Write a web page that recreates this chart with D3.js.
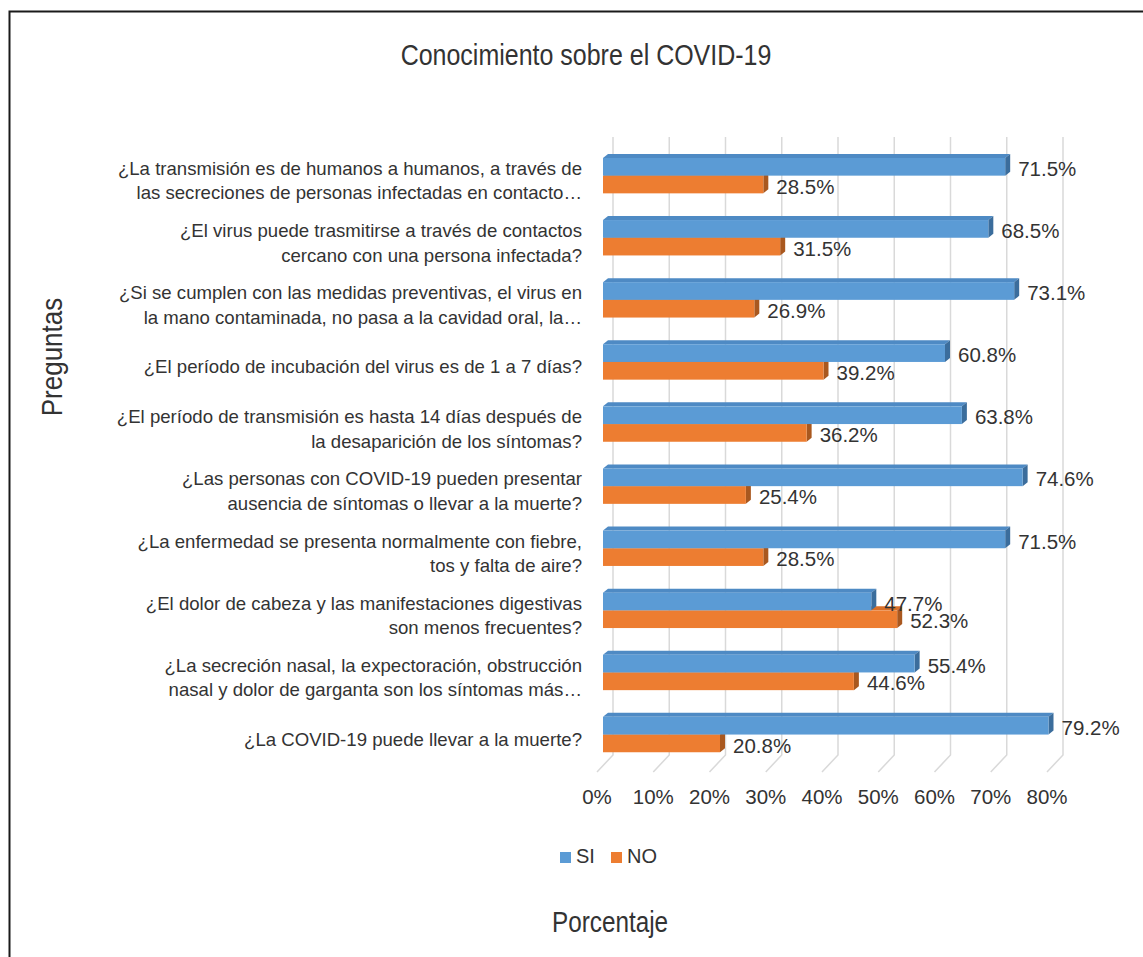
<!DOCTYPE html>
<html>
<head>
<meta charset="utf-8">
<script src="https://cdn.jsdelivr.net/npm/d3@7"></script>
<style>
  body { margin: 0; background: #fff; }
  text { font-family: "Liberation Sans", Arial, sans-serif; fill: #333; }
</style>
</head>
<body>
<script>
// chart data
var preguntas = [
    ["¿La transmisión es de humanos a humanos, a través de", "las secreciones de personas infectadas en contacto…"],
    ["¿El virus puede trasmitirse a través de contactos", "cercano con una persona infectada?"],
    ["¿Si se cumplen con las medidas preventivas, el virus en", "la mano contaminada, no pasa a la cavidad oral, la…"],
    ["¿El período de incubación del virus es de 1 a 7 días?"],
    ["¿El período de transmisión es hasta 14 días después de", "la desaparición de los síntomas?"],
    ["¿Las personas con COVID-19 pueden presentar", "ausencia de síntomas o llevar a la muerte?"],
    ["¿La enfermedad se presenta normalmente con fiebre,", "tos y falta de aire?"],
    ["¿El dolor de cabeza y las manifestaciones digestivas", "son menos frecuentes?"],
    ["¿La secreción nasal, la expectoración, obstrucción", "nasal y dolor de garganta son los síntomas más…"],
    ["¿La COVID-19 puede llevar a la muerte?"]
];
var series = ["SI", "NO"];
var valoresSI = [71.5, 68.5, 73.1, 60.8, 63.8, 74.6, 71.5, 47.7, 55.4, 79.2];
var valoresNO = [28.5, 31.5, 26.9, 39.2, 36.2, 25.4, 28.5, 52.3, 44.6, 20.8];
var ticks = [0, 10, 20, 30, 40, 50, 60, 70, 80];

var width = 1143,
    height = 957;

var colors = {
    SI: { front: "#5b9bd5", top: "#4e8ac4", side: "#3b6d9c" },
    NO: { front: "#ed7d31", top: "#d86f28", side: "#a9581f" }
};

var svg = d3.select("body")
    .append("svg")
    .attr("width", width)
    .attr("height", height);

//outer frame (right and bottom edges fall off the picture)
svg.append("path")
    .attr("d", "M9.5,957 L9.5,11.5 L1143,11.5")
    .attr("fill", "none")
    .attr("stroke", "#1a1a1a")
    .attr("stroke-width", 2);

//scales: x is the front face of the bars
var x = d3.scaleLinear().domain([0, 80]).range([603, 1053]);
var backDx = 10, floorDx = -6;
var depthX = 5, depthY = -4;

var idx = d3.range(preguntas.length);
var y = d3.scaleBand()
    .domain(idx)
    .range([144.6, 765.6])
    .paddingInner(0.43)
    .paddingOuter(0.215);
var ySub = d3.scaleBand().domain(series).range([0, y.bandwidth()]);

//back wall gridlines and floor
var grid = svg.append("g").attr("class", "grid");
grid.selectAll(".wall")
    .data(ticks)
    .enter()
    .append("path")
    .attr("d", function(t){
        var xb = x(t) + backDx;
        return "M" + xb + ",137 L" + xb + ",755 L" + (xb - 16) + ",772";
    })
    .attr("fill", "none")
    .attr("stroke", "#d9d9d9")
    .attr("stroke-width", 1.5);

//tick labels
svg.selectAll(".tick")
    .data(ticks)
    .enter()
    .append("text")
    .attr("x", function(t){ return x(t) + floorDx; })
    .attr("y", 804)
    .attr("text-anchor", "middle")
    .style("font-size", "20.5px")
    .text(function(t){ return t + "%"; });

//rows: orange first so blue covers its top face
var rows = [];
idx.forEach(function(i){
    rows.push({ i: i, s: "NO", v: valoresNO[i] });
    rows.push({ i: i, s: "SI", v: valoresSI[i] });
});

var bars = svg.selectAll(".bar")
    .data(rows)
    .enter()
    .append("g")
    .attr("class", "bar");

bars.append("path")
    .attr("fill", function(d){ return colors[d.s].top; })
    .attr("d", function(d){
        var y0 = y(d.i) + ySub(d.s), x0 = x(0), x1 = x(d.v);
        return "M" + x0 + "," + y0 + " L" + (x0 + depthX) + "," + (y0 + depthY) +
            " L" + (x1 + depthX) + "," + (y0 + depthY) + " L" + x1 + "," + y0 + "Z";
    });

bars.append("path")
    .attr("fill", function(d){ return colors[d.s].side; })
    .attr("d", function(d){
        var y0 = y(d.i) + ySub(d.s), y1 = y0 + ySub.bandwidth(), x1 = x(d.v);
        return "M" + x1 + "," + y0 + " L" + (x1 + depthX) + "," + (y0 + depthY) +
            " L" + (x1 + depthX) + "," + (y1 + depthY) + " L" + x1 + "," + y1 + "Z";
    });

bars.append("rect")
    .attr("x", x(0))
    .attr("y", function(d){ return y(d.i) + ySub(d.s); })
    .attr("width", function(d){ return x(d.v) - x(0); })
    .attr("height", ySub.bandwidth())
    .attr("fill", function(d){ return colors[d.s].front; });

//data labels
svg.selectAll(".lbl")
    .data(rows)
    .enter()
    .append("text")
    .attr("x", function(d){ return x(d.v) + 13; })
    .attr("y", function(d){ return y(d.i) + ySub(d.s) + ySub.bandwidth() / 2 + 2; })
    .attr("dy", "0.35em")
    .style("font-size", "20.5px")
    .text(function(d){ return d.v.toFixed(1) + "%"; });

//category labels
var cats = svg.selectAll(".cat")
    .data(idx)
    .enter()
    .append("text")
    .attr("text-anchor", "end")
    .style("font-size", "18.6px");

cats.each(function(i){
    var lines = preguntas[i];
    var cy = y(i) + y.bandwidth() / 2 + 5;
    var t = d3.select(this);
    lines.forEach(function(line, k){
        t.append("tspan")
            .attr("x", 582)
            .attr("y", cy + (k - (lines.length - 1) / 2) * 24.5)
            .attr("dy", "0.35em")
            .text(line);
    });
});

//title
svg.append("text")
    .attr("text-anchor", "middle")
    .attr("transform", "translate(586,65) scale(1,1.17)")
    .style("font-size", "25px")
    .text("Conocimiento sobre el COVID-19");

//axis titles
svg.append("text")
    .attr("text-anchor", "middle")
    .attr("transform", "translate(62,357) rotate(-90) scale(1,1.12)")
    .style("font-size", "26px")
    .text("Preguntas");

svg.append("text")
    .attr("text-anchor", "middle")
    .attr("transform", "translate(610,932) scale(1,1.22)")
    .style("font-size", "24.3px")
    .text("Porcentaje");

//legend
var legendX = [560, 611];
var legend = svg.selectAll(".legend")
    .data(series)
    .enter()
    .append("g")
    .attr("transform", function(d, k){ return "translate(" + legendX[k] + ",852)"; });

legend.append("rect")
    .attr("width", 11)
    .attr("height", 11)
    .attr("fill", function(d){ return colors[d].front; });

legend.append("text")
    .attr("x", 16)
    .attr("y", 11)
    .style("font-size", "20px")
    .text(function(d){ return d; });
</script>
</body>
</html>
